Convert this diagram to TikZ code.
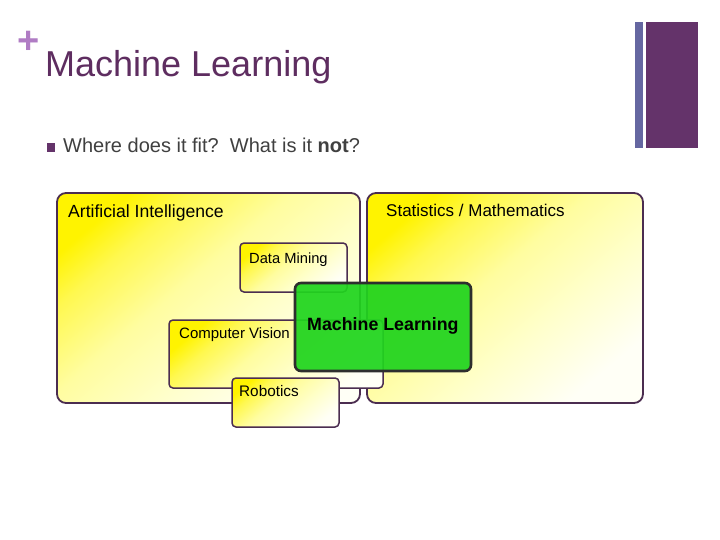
\documentclass[tikz,border=0pt]{standalone}
\usepackage{fontspec}
\setmainfont{Liberation Sans}
\setsansfont{Liberation Sans}
\usepackage{tikz}
\usetikzlibrary{positioning}
\definecolor{slidePurple}{RGB}{94,45,96}
\definecolor{plusPurple}{RGB}{176,124,196}
\definecolor{barBlue}{RGB}{101,103,161}
\definecolor{barPurple}{RGB}{100,51,106}
\definecolor{bodyGray}{RGB}{64,64,64}
\definecolor{frameLine}{RGB}{75,45,80}
\definecolor{hiYellow}{RGB}{255,243,0}
\definecolor{warmYellow}{RGB}{255,248,80}
\definecolor{midYellow}{RGB}{255,253,160}
\definecolor{paleYellow}{RGB}{255,255,205}
\definecolor{endYellow}{RGB}{255,255,246}
\definecolor{mlGreen}{RGB}{32,212,30}
\definecolor{mlEdge}{RGB}{46,46,46}
\pgfdeclareverticalshading{fieldwash}{100bp}{color(0bp)=(endYellow); color(25bp)=(endYellow);
  color(40bp)=(paleYellow); color(55bp)=(midYellow); color(68bp)=(warmYellow);
  color(76bp)=(hiYellow); color(100bp)=(hiYellow)}

\begin{document}
\begin{tikzpicture}[
  x=1pt,y=-1pt,
  field/.style={draw=frameLine,line width=1.8pt,rounded corners=9pt,
                shade,shading=fieldwash,shading angle=40,
                anchor=north west,inner sep=0pt,outer sep=0pt},
  subfield/.style={field,line width=1.5pt,rounded corners=4pt},
  mlbox/.style={draw=mlEdge,line width=2.6pt,rounded corners=6pt,
                fill=mlGreen,fill opacity=0.93,
                anchor=north west,inner sep=0pt,outer sep=0pt},
  bar/.style={anchor=north west,inner sep=0pt,outer sep=0pt},
  lbl/.style={anchor=base west,inner sep=0pt,text=black},
]
  \fill[white] (0,0) rectangle (720,540);
  \useasboundingbox (0,0) rectangle (720,540);

  % slide header
  \node[anchor=base west,inner sep=0pt,text=plusPurple,
        font=\fontsize{38}{38}\selectfont\bfseries] (plus) at (17.5,54) {+};
  \node[anchor=base west,inner sep=0pt,text=slidePurple,
        font=\fontsize{36}{40}\selectfont] (title) at (45,77) {Machine Learning};
  \node[fill=barPurple,minimum size=8.5pt,inner sep=0pt] (bullet) at (51,147.5) {};
  \node[anchor=base west,inner sep=0pt,text=bodyGray,
        font=\fontsize{20}{24}\selectfont] (question) at (63,153)
    {Where does it fit?\ \ What is it \textbf{not}?};
  \node[bar,fill=barBlue,minimum width=8pt,minimum height=126pt] (thinbar) at (635,22) {};
  \node[bar,fill=barPurple,minimum width=52pt,minimum height=126pt] (widebar) at (646,22) {};

  % fields
  \node[field,minimum width=303pt,minimum height=210pt] (ai) at (57,193) {};
  \node[field,minimum width=276pt,minimum height=210pt] (stats) at (367,193) {};
  \node[subfield,minimum width=107pt,minimum height=49pt] (dm) at (240,243) {};
  \node[subfield,minimum width=214pt,minimum height=68pt] (cv) at (169,320) {};
  \node[subfield,minimum width=107pt,minimum height=49pt] (rob) at (232,378) {};
  \node[mlbox,minimum width=176pt,minimum height=88pt] (ml) at (295,283) {};

  \node[lbl,font=\fontsize{17.6}{20}\selectfont] (ailbl)
    at ([shift={(11,25)}]ai.north west) {Artificial Intelligence};
  \node[lbl,font=\fontsize{17}{20}\selectfont] (statslbl)
    at ([shift={(19,23)}]stats.north west) {Statistics / Mathematics};
  \node[lbl,font=\fontsize{14.7}{17}\selectfont] (dmlbl)
    at ([shift={(9,20)}]dm.north west) {Data Mining};
  \node[lbl,font=\fontsize{15}{17}\selectfont] (cvlbl)
    at ([shift={(10,18)}]cv.north west) {Computer Vision};
  \node[lbl,font=\fontsize{15.3}{17}\selectfont] (roblbl)
    at ([shift={(7,18)}]rob.north west) {Robotics};
  \node[lbl,font=\fontsize{17.8}{20}\selectfont\bfseries] (mllbl)
    at ([shift={(12,47)}]ml.north west) {Machine Learning};
\end{tikzpicture}
\end{document}
